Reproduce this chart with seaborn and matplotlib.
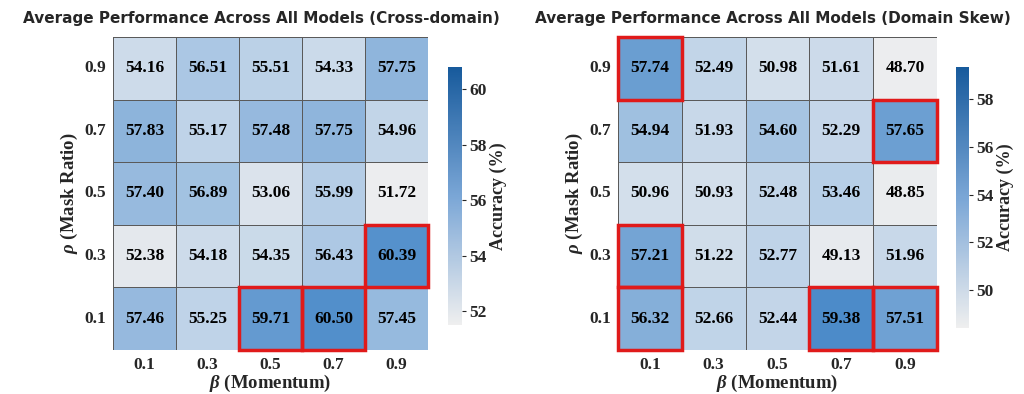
import numpy as np
import pandas as pd
import matplotlib
matplotlib.use("Agg")
import matplotlib.pyplot as plt
import seaborn as sns
from matplotlib.colors import LinearSegmentedColormap, Normalize
from matplotlib.cm import ScalarMappable
from matplotlib.patches import Rectangle

# axis values
betas = ["0.1", "0.3", "0.5", "0.7", "0.9"]
rhos = ["0.9", "0.7", "0.5", "0.3", "0.1"]

# accuracy grids, rows rho 0.9 -> 0.1, cols beta 0.1 -> 0.9
cross_domain = [
    [54.16, 56.51, 55.51, 54.33, 57.75],
    [57.83, 55.17, 57.48, 57.75, 54.96],
    [57.40, 56.89, 53.06, 55.99, 51.72],
    [52.38, 54.18, 54.35, 56.43, 60.39],
    [57.46, 55.25, 59.71, 60.50, 57.45],
]
domain_skew = [
    [57.74, 52.49, 50.98, 51.61, 48.70],
    [54.94, 51.93, 54.60, 52.29, 57.65],
    [50.96, 50.93, 52.48, 53.46, 48.85],
    [57.21, 51.22, 52.77, 49.13, 51.96],
    [56.32, 52.66, 52.44, 59.38, 57.51],
]

# highlighted cells (row, col)
cross_hl = [(3, 4), (4, 2), (4, 3)]
skew_hl = [(0, 0), (1, 4), (3, 0), (4, 0), (4, 3), (4, 4)]

sns.set_style("white")
plt.rcParams["font.family"] = ["Liberation Serif", "DejaVu Serif"]
plt.rcParams["mathtext.fontset"] = "custom"
plt.rcParams["mathtext.it"] = "Liberation Serif:italic:bold"
plt.rcParams["mathtext.rm"] = "Liberation Serif:bold"

cell_cmap = LinearSegmentedColormap.from_list("cell", ["#efefef", "#b3cce6", "#4c8bc9"])
bar_cmap = LinearSegmentedColormap.from_list("bar", ["#efefef", "#7aa6d6", "#175a9c"])

fig = plt.figure(figsize=(10.24, 3.94), dpi=100)


def panel(data, hl, title, title_x, rect, cbar_rect, vmin, vmax, ticks):
    ax = fig.add_axes(rect)
    df = pd.DataFrame(data, index=rhos, columns=betas)
    sns.heatmap(df, ax=ax, cmap=cell_cmap, vmin=vmin, vmax=vmax, annot=True, fmt=".2f",
                cbar=False, linewidths=0.5, linecolor="#5a5a5a",
                annot_kws=dict(weight="bold", size=12.5, color="black"))
    for r, c in hl:
        ax.add_patch(Rectangle((c, r), 1, 1, fill=False, edgecolor="#e01a1a",
                               lw=2.5, clip_on=False, zorder=5))
    ax.set_title(title, fontsize=11, fontweight="bold", family="DejaVu Sans",
                 pad=10, x=title_x)
    ax.set_xlabel(r"$\beta$ (Momentum)", fontsize=13.5, fontweight="bold", labelpad=0)
    ax.set_ylabel(r"$\rho$ (Mask Ratio)", fontsize=13.5, fontweight="bold", labelpad=3)
    ax.tick_params(axis="both", length=3, width=0.8, labelsize=12.5, pad=2)
    ax.set_yticklabels(ax.get_yticklabels(), rotation=0)
    for t in ax.get_xticklabels() + ax.get_yticklabels():
        t.set_fontweight("bold")

    cax = fig.add_axes(cbar_rect)
    sm = ScalarMappable(norm=Normalize(vmin=vmin, vmax=vmax), cmap=bar_cmap)
    cb = fig.colorbar(sm, cax=cax, ticks=ticks)
    cb.outline.set_visible(False)
    cb.ax.tick_params(labelsize=12.5, length=3, width=0.8, pad=2)
    for t in cb.ax.get_yticklabels():
        t.set_fontweight("bold")
    cb.set_label("Accuracy (%)", fontsize=13, fontweight="bold", labelpad=2)


panel(cross_domain, cross_hl, "Average Performance Across All Models (Cross-domain)", 0.47,
      [0.1104, 0.1117, 0.3076, 0.7944], [0.4375, 0.1751, 0.0137, 0.6548],
      51.5, 60.8, [52, 54, 56, 58, 60])
panel(domain_skew, skew_hl, "Average Performance Across All Models (Domain Skew)", 0.487,
      [0.6035, 0.1117, 0.3115, 0.7944], [0.9336, 0.1675, 0.0127, 0.6624],
      48.4, 59.35, [50, 52, 54, 56, 58])

fig.savefig("out.png", dpi=100)
